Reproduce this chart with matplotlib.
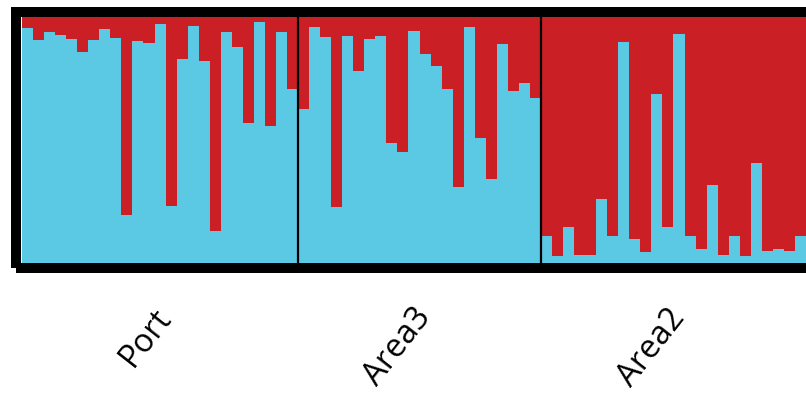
import numpy as np
import matplotlib
matplotlib.use("Agg")
import matplotlib.pyplot as plt
import matplotlib.transforms as mtransforms
from matplotlib.patches import Rectangle

# membership to the blue cluster, one value per individual (red = 1 - blue)
port = [0.953, 0.903, 0.939, 0.926, 0.908, 0.858, 0.903, 0.949, 0.912, 0.196,
        0.899, 0.892, 0.969, 0.230, 0.827, 0.962, 0.818, 0.131, 0.939, 0.876,
        0.568, 0.978, 0.554, 0.936, 0.707]
area3 = [0.623, 0.959, 0.918, 0.227, 0.921, 0.778, 0.907, 0.921, 0.486, 0.449,
         0.943, 0.848, 0.800, 0.705, 0.309, 0.956, 0.507, 0.340, 0.888, 0.697,
         0.731, 0.671]
area2 = [0.108, 0.027, 0.145, 0.031, 0.031, 0.261, 0.108, 0.895, 0.097, 0.045,
         0.685, 0.145, 0.930, 0.108, 0.058, 0.318, 0.031, 0.108, 0.027, 0.405,
         0.047, 0.057, 0.050, 0.108]
groups = ["Port", "Area3", "Area2"]

blue_col = "#5bc9e4"
red_col = "#cb1f26"

W, H = 806, 398
fig = plt.figure(figsize=(W / 100, H / 100), dpi=100)

# inner plot area in pixels (image coords)
x0, x1 = 22, 806
y0, y1 = 16.5, 263
ax = fig.add_axes([x0 / W, (H - y1) / H, (x1 - x0) / W, (y1 - y0) / H])

blue = np.array(port + area3 + area2)
red = 1 - blue
x = np.arange(len(blue))
ax.bar(x, blue, width=1.0, align="edge", color=blue_col, linewidth=0)
ax.bar(x, red, bottom=blue, width=1.0, align="edge", color=red_col, linewidth=0)

ax.set_xlim(0, len(blue))
ax.set_ylim(0, 1)
ax.set_xticks([])
ax.set_yticks([])
for s in ax.spines.values():
    s.set_visible(False)

# thin dividers between groups
bounds = np.cumsum([len(port), len(area3), len(area2)])
for b in bounds[:-1]:
    ax.axvline(b, color="black", lw=1.6)

# thick outer frame (right side runs off the picture)
lw_px = 10
fig.patches.append(Rectangle((16 / W, (H - 268) / H), (830 - 16) / W, (268 - 11.75) / H,
                             transform=fig.transFigure, fill=False,
                             edgecolor="black", linewidth=lw_px * 0.72, zorder=10))

# group labels, top-right corner of each label just right of the group centre
trans = mtransforms.blended_transform_factory(ax.transData, fig.transFigure)
starts = np.concatenate([[0], bounds[:-1]])
for name, s, e in zip(groups, starts, bounds):
    cx = (s + e) / 2 + 19 / 11.05
    ax.text(cx, (H - 302) / H, name, transform=trans,
            rotation=52, ha="right", va="top", fontsize=23.5, family="Open Sans",
            color="black")

fig.savefig("out.png", dpi=100)
